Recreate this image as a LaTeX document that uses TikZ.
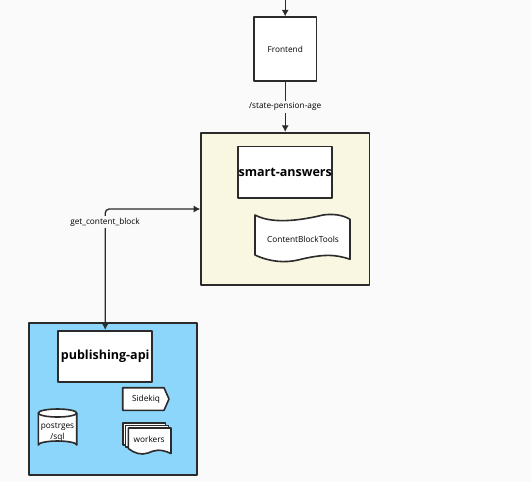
\documentclass[tikz,border=0pt]{standalone}
\usepackage{fontspec}
\setmainfont{Open Sans}
\usetikzlibrary{arrows.meta}
\definecolor{pagebg}{HTML}{FAFAFA}
\definecolor{linecol}{HTML}{2B2B2B}
\definecolor{creambg}{HTML}{F9F7E1}
\definecolor{bluebg}{HTML}{8BD6FA}
\tikzset{
  x=0.75pt,y=-0.75pt,
  shapeline/.style={draw=linecol,line width=1.2pt,line join=round},
  box/.style={shapeline,fill=white,rectangle,inner sep=0pt,font=\fontsize{6.2}{8}\selectfont,text=black},
  container/.style={shapeline,rectangle,inner sep=0pt},
  titlebox/.style={box,minimum width=70.6pt,minimum height=38.4pt,font=\bfseries\fontsize{9.4}{12}\selectfont,text=black},
  plain/.style={inner sep=0pt,font=\fontsize{6.2}{8}\selectfont,text=black,align=center},
  conn/.style={draw=linecol,line width=1pt,-{Latex[length=5pt,width=5.4pt]}},
  connboth/.style={draw=linecol,line width=1pt,{Latex[length=5pt,width=5.4pt]}-{Latex[length=5pt,width=5.4pt]}},
  edgelabel/.style={fill=pagebg,inner sep=1.5pt,font=\fontsize{6.2}{8}\selectfont,text=black},
}
\begin{document}
\begin{tikzpicture}
\useasboundingbox (0,0) rectangle (531,482);
\fill[pagebg] (0,0) rectangle (531,482);

\coordinate (topin) at (285.2,0);
\node[box,minimum width=47.2pt,minimum height=47.6pt] (frontend) at (285.2,49) {Frontend};

\node[container,fill=creambg,minimum width=126.2pt,minimum height=114.4pt] (smart) at (285.2,209) {};
\node[titlebox] (smarttitle) at (285.2,172.2) {smart-answers};
\draw[shapeline,fill=white] (255,215)
  .. controls (268,222) and (290,223) .. (323,215)
  .. controls (333,213.5) and (343,215) .. (350,219.3)
  -- (350,259.3)
  .. controls (335,254) and (322,254) .. (298,260)
  .. controls (285,263) and (270,262) .. (255,255) -- cycle;
\node[plain] (cbt) at (303,239) {ContentBlockTools};

\node[container,fill=bluebg,minimum width=126pt,minimum height=114.4pt] (pub) at (113,399) {};
\node[titlebox] (pubtitle) at (105.2,356.3) {publishing-api};

\draw[shapeline,fill=white] (122.7,387.7) -- (164,387.7) -- (169,399) -- (164,410.3) -- (122.7,410.3) -- cycle;
\node[plain] (sidekiq) at (146,399) {Sidekiq};

\draw[shapeline,fill=white] (38.3,413) -- (38.3,445) arc[start angle=180,end angle=360,x radius=19.2,y radius=4] -- (76.7,413);
\draw[shapeline,fill=white] (57.5,413) ellipse[x radius=19.2,y radius=4];
\node[plain] (pg) at (57.5,432) {postrges\\/sql};

\draw[shapeline,fill=white] (122.7,423) -- (165.5,423) -- (165.5,445) -- (122.7,445) -- cycle;
\draw[shapeline,fill=white] (125.5,425.5) -- (168.3,425.5) -- (168.3,447) -- (125.5,447) -- cycle;
\draw[shapeline,fill=white] (128.3,428) -- (171,428) -- (171,453.5)
  .. controls (160,448.5) and (155,450) .. (148,453)
  .. controls (141,455.5) and (134,453) .. (128.3,448.5) -- cycle;
\node[plain] (workers) at (149.2,439.5) {workers};

\draw[conn] (topin) -- (frontend.north);
\draw[conn] (frontend.south) -- node[edgelabel,pos=0.5] (lab1) {/state-pension-age} (smart.north);
\draw[connboth,rounded corners=3pt] (pubtitle.north) -- (105.2,209) -- (smart.west);
\node[edgelabel] (lab2) at (105,222) {get\_content\_block};
\end{tikzpicture}
\end{document}
